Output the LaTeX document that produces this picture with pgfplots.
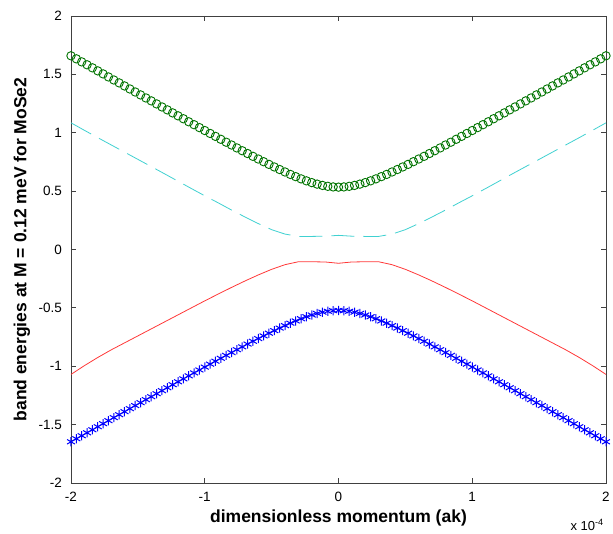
\documentclass[border=0pt]{standalone}
\usepackage{fontspec}
\setmainfont{Liberation Sans}
\usepackage{pgfplots}
\usepackage{pgfplotstable}
\pgfplotsset{compat=1.18}
\definecolor{mgreen}{rgb}{0,0.45,0}
\definecolor{mcyan}{rgb}{0.25,0.82,0.82}
\definecolor{mred}{rgb}{1,0.22,0.22}
\definecolor{mblue}{rgb}{0,0,1}

% marked bands (k in units of 1e-4)
\pgfplotstableread{
k g b
-2.00 1.659 -1.647
-1.96 1.633 -1.621
-1.92 1.607 -1.595
-1.88 1.582 -1.570
-1.84 1.556 -1.544
-1.80 1.530 -1.518
-1.76 1.504 -1.492
-1.72 1.478 -1.466
-1.68 1.452 -1.440
-1.64 1.427 -1.415
-1.60 1.401 -1.389
-1.56 1.375 -1.363
-1.52 1.349 -1.337
-1.48 1.324 -1.312
-1.44 1.298 -1.286
-1.40 1.273 -1.261
-1.36 1.247 -1.235
-1.32 1.221 -1.209
-1.28 1.196 -1.184
-1.24 1.170 -1.158
-1.20 1.145 -1.133
-1.16 1.120 -1.108
-1.12 1.094 -1.082
-1.08 1.069 -1.057
-1.04 1.044 -1.032
-1.00 1.019 -1.007
-0.96 0.994 -0.982
-0.92 0.969 -0.957
-0.88 0.944 -0.932
-0.84 0.919 -0.907
-0.80 0.895 -0.883
-0.76 0.870 -0.858
-0.72 0.846 -0.834
-0.68 0.822 -0.810
-0.64 0.798 -0.786
-0.60 0.775 -0.763
-0.56 0.752 -0.740
-0.52 0.729 -0.717
-0.48 0.707 -0.695
-0.44 0.685 -0.673
-0.40 0.664 -0.652
-0.36 0.643 -0.631
-0.32 0.624 -0.612
-0.28 0.605 -0.593
-0.24 0.588 -0.576
-0.20 0.573 -0.561
-0.16 0.560 -0.548
-0.12 0.549 -0.537
-0.08 0.541 -0.529
-0.04 0.536 -0.524
0.00 0.534 -0.522
0.04 0.536 -0.524
0.08 0.541 -0.529
0.12 0.549 -0.537
0.16 0.560 -0.548
0.20 0.573 -0.561
0.24 0.588 -0.576
0.28 0.605 -0.593
0.32 0.624 -0.612
0.36 0.643 -0.631
0.40 0.664 -0.652
0.44 0.685 -0.673
0.48 0.707 -0.695
0.52 0.729 -0.717
0.56 0.752 -0.740
0.60 0.775 -0.763
0.64 0.798 -0.786
0.68 0.822 -0.810
0.72 0.846 -0.834
0.76 0.870 -0.858
0.80 0.895 -0.883
0.84 0.919 -0.907
0.88 0.944 -0.932
0.92 0.969 -0.957
0.96 0.994 -0.982
1.00 1.019 -1.007
1.04 1.044 -1.032
1.08 1.069 -1.057
1.12 1.094 -1.082
1.16 1.120 -1.108
1.20 1.145 -1.133
1.24 1.170 -1.158
1.28 1.196 -1.184
1.32 1.221 -1.209
1.36 1.247 -1.235
1.40 1.273 -1.261
1.44 1.298 -1.286
1.48 1.324 -1.312
1.52 1.349 -1.337
1.56 1.375 -1.363
1.60 1.401 -1.389
1.64 1.427 -1.415
1.68 1.452 -1.440
1.72 1.478 -1.466
1.76 1.504 -1.492
1.80 1.530 -1.518
1.84 1.556 -1.544
1.88 1.582 -1.570
1.92 1.607 -1.595
1.96 1.633 -1.621
2.00 1.659 -1.647
}\markedbands

% line bands
\pgfplotstableread{
k c r
-2.0 1.085 -1.070
-1.9 1.021 -0.995
-1.8 0.958 -0.925
-1.7 0.896 -0.860
-1.6 0.834 -0.800
-1.5 0.772 -0.740
-1.4 0.710 -0.680
-1.3 0.648 -0.620
-1.2 0.585 -0.560
-1.1 0.522 -0.500
-1.0 0.460 -0.440
-0.9 0.400 -0.382
-0.8 0.338 -0.325
-0.7 0.279 -0.270
-0.6 0.222 -0.218
-0.5 0.170 -0.170
-0.4 0.132 -0.130
-0.3 0.112 -0.105
-0.2 0.112 -0.105
-0.1 0.114 -0.107
0.0 0.121 -0.118
0.1 0.114 -0.107
0.2 0.112 -0.105
0.3 0.112 -0.105
0.4 0.132 -0.130
0.5 0.170 -0.170
0.6 0.222 -0.218
0.7 0.279 -0.270
0.8 0.338 -0.325
0.9 0.400 -0.382
1.0 0.460 -0.440
1.1 0.522 -0.500
1.2 0.585 -0.560
1.3 0.648 -0.620
1.4 0.710 -0.680
1.5 0.772 -0.740
1.6 0.834 -0.800
1.7 0.896 -0.860
1.8 0.958 -0.925
1.9 1.021 -0.995
2.0 1.085 -1.070
}\linebands

\begin{document}
\begin{tikzpicture}
\begin{axis}[
  scale only axis,
  width=535pt, height=467pt,
  xmin=-2, xmax=2, ymin=-2, ymax=2,
  xtick={-2,-1,0,1,2},
  xticklabels={-2,-1,0,1,2},
  ytick={-2,-1.5,-1,-0.5,0,0.5,1,1.5,2},
  yticklabels={-2,-1.5,-1,-0.5,0,0.5,1,1.5,2},
  tick align=inside,
  major tick length=5pt,
  tick style={black!75, line width=0.8pt},
  axis line style={black!75, line width=0.8pt},
  tick label style={font=\fontsize{13.5}{15}\selectfont},
  xticklabel style={anchor=center, yshift=-14pt, inner sep=0pt},
  yticklabel style={anchor=east, xshift=-9pt, inner sep=0pt},
  xlabel={dimensionless momentum (ak)},
  ylabel={band energies at M = 0.12 meV for MoSe2},
  label style={font=\bfseries\fontsize{17.5}{20}\selectfont},
  xlabel style={at={(axis description cs:0.5,-0.075)}, anchor=center},
  ylabel style={at={(axis description cs:-0.0916,0.5)}, anchor=center},
]
\coordinate (sw) at (rel axis cs:0,0);
\coordinate (ne) at (rel axis cs:1,1);
\addplot[mblue, only marks, mark=asterisk, mark size=4.6pt, mark options={line width=1pt}] table[x=k, y=b] {\markedbands};
\addplot[mred, line width=0.8pt] table[x=k, y=r] {\linebands};
\addplot[mcyan, line width=0.8pt, dash pattern=on 23pt off 9pt] table[x=k, y=c] {\linebands};
\addplot[mgreen, only marks, mark=o, mark size=4.2pt, mark options={line width=0.9pt}] table[x=k, y=g] {\markedbands};
\end{axis}
\node[anchor=east, font=\fontsize{13}{15}\selectfont, inner sep=0pt] at ([xshift=-2pt, yshift=-42pt]sw -| ne) {x 10\textsuperscript{-4}};
\pgfresetboundingbox
\path ([xshift=-71pt, yshift=-51pt]sw) rectangle ([xshift=7pt, yshift=16pt]ne);
\end{tikzpicture}
\end{document}
